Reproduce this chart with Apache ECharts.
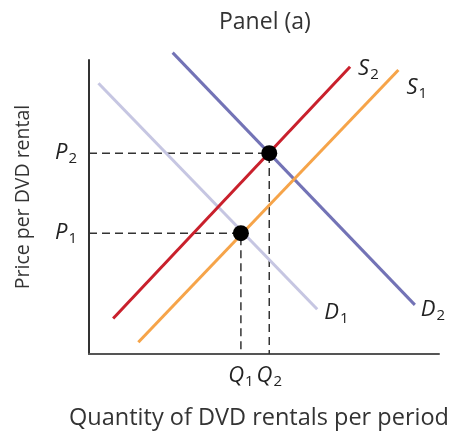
<!DOCTYPE html>
<html>
<head>
<meta charset="utf-8">
<script src="https://cdn.jsdelivr.net/npm/echarts@6/dist/echarts.min.js"></script>
<style>
  html, body { margin: 0; padding: 0; background: #fff; }
  #main { width: 456px; height: 442px; }
</style>
</head>
<body>
<div id="main"></div>
<script>
// coordinates on a 0..100 scale for both axes
var d1 = [[2.7, 92.1], [65.2, 15.2]];
var d2 = [[23.9, 102.5], [93.1, 16.7]];
var s2 = [[6.9, 12.1], [74.6, 97.7]];
var s1 = [[14.1, 4.0], [88.4, 96.6]];
var equilibria = [[43.4, 41.1], [51.5, 68.3]];
var priceTicks = [41.1, 68.3];
var qtyTicks = [43.4, 51.5];
var priceNames = ['1', '2'];
var qtyNames = ['1', '2'];

var font = '"Open Sans", "Noto Sans", sans-serif';
var rich = {
    i: { fontFamily: font, fontStyle: 'italic', fontSize: 22, color: '#222' },
    s: { fontFamily: font, fontSize: 15, color: '#222', padding: [12, 0, 0, 1] }
};

function lineSeries(data, color, name, dx, dy) {
    return {
        type: 'line',
        clip: false,
        symbol: 'none',
        silent: true,
        z: 2,
        lineStyle: { color: color, width: 3 },
        endLabel: {
            show: true,
            offset: [dx, dy],
            formatter: '{i|' + name[0] + '}{s|' + name[1] + '}',
            rich: rich
        },
        data: data
    };
}

var guides = [];
equilibria.forEach(function (p) {
    guides.push({
        type: 'line', symbol: 'none', silent: true, z: 1,
        lineStyle: { color: '#333', width: 1.5, type: [8, 5] },
        data: [[0, p[1]], p, [p[0], 0]]
    });
});

var chart = echarts.init(document.getElementById('main'));
chart.setOption({
    backgroundColor: '#fff',
    animation: false,
    title: {
        text: 'Panel (a)',
        left: 214, top: 6,
        textStyle: { fontFamily: font, fontSize: 23, fontWeight: 'normal', color: '#333' }
    },
    grid: { left: 89, top: 60, right: 17, bottom: 88 },
    xAxis: {
        type: 'value', min: 0, max: 100,
        splitLine: { show: false },
        axisLine: { lineStyle: { color: '#555', width: 2 } },
        axisTick: { show: false },
        axisLabel: {
            customValues: qtyTicks,
            margin: 8,
            formatter: function (v) {
                var k = qtyTicks.indexOf(v);
                return '{i|Q}{s|' + qtyNames[k] + '}';
            },
            rich: rich
        },
        name: 'Quantity of DVD rentals per period',
        nameLocation: 'middle',
        nameGap: 52,
        nameTextStyle: { fontFamily: font, fontSize: 23.5, color: '#333', padding: [0, 10, 0, 0] }
    },
    yAxis: {
        type: 'value', min: 0, max: 100,
        splitLine: { show: false },
        axisLine: { lineStyle: { color: '#333', width: 2 } },
        axisTick: { show: false },
        axisLabel: {
            customValues: priceTicks,
            margin: 12,
            formatter: function (v) {
                var k = priceTicks.indexOf(v);
                return '{i|P}{s|' + priceNames[k] + '}';
            },
            rich: rich
        },
        name: 'Price per DVD rental',
        nameLocation: 'middle',
        nameGap: 56,
        nameTextStyle: { fontFamily: font, fontSize: 19.5, color: '#333', padding: [0, 0, 0, 20] }
    },
    series: guides.concat([
        lineSeries(d1, '#c6c6e2', 'D1', -1, 3),
        lineSeries(d2, '#7373b6', 'D2', -2, 5),
        lineSeries(s2, '#c9202c', 'S2', 0, 2),
        lineSeries(s1, '#f6a449', 'S1', 0, 18),
        {
            type: 'scatter', silent: true, z: 10,
            symbolSize: 16,
            itemStyle: { color: '#000', opacity: 1 },
            data: equilibria
        }
    ])
});
</script>
</body>
</html>
